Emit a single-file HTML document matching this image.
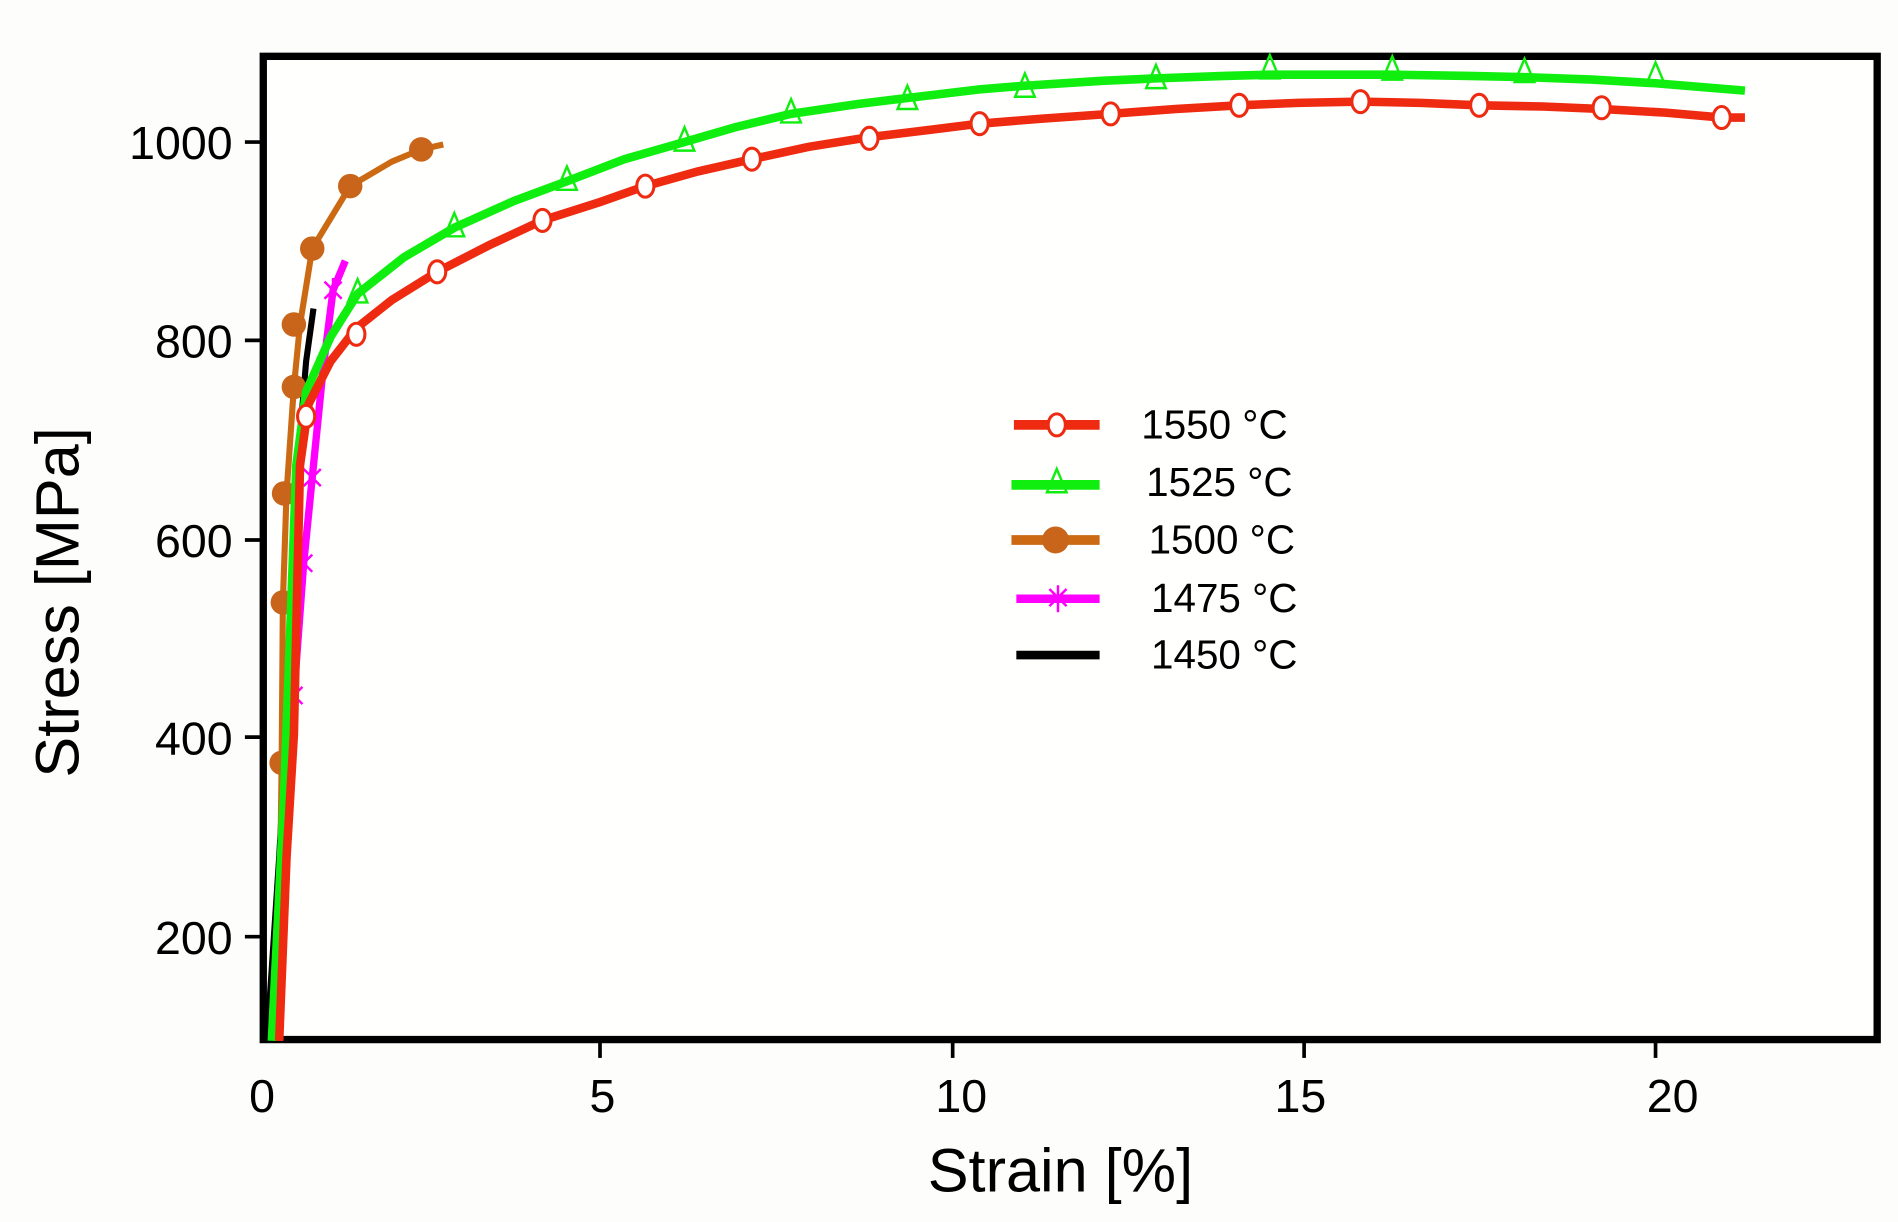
<!DOCTYPE html>
<html><head><meta charset="utf-8"><style>
html,body{margin:0;padding:0;background:#fdfdfb;}
svg{display:block;}
text{font-family:"Liberation Sans",sans-serif;fill:#000;}
</style></head><body>
<svg width="1898" height="1222" viewBox="0 0 1550 998" preserveAspectRatio="none">
<rect x="0" y="0" width="1550" height="998" fill="#fdfdfb"/>
<rect x="215" y="46" width="1318" height="803" fill="#fffffd" stroke="#000" stroke-width="6"/>
<g stroke="#000" stroke-width="3">
<line x1="200" y1="116" x2="213" y2="116"/><line x1="200" y1="278" x2="213" y2="278"/>
<line x1="200" y1="441" x2="213" y2="441"/><line x1="200" y1="602" x2="213" y2="602"/>
<line x1="200" y1="765" x2="213" y2="765"/>
<line x1="490" y1="851" x2="490" y2="864"/><line x1="778" y1="851" x2="778" y2="864"/>
<line x1="1065" y1="851" x2="1065" y2="864"/><line x1="1352" y1="851" x2="1352" y2="864"/>
</g>
<g font-size="38" text-anchor="end">
<text x="190" y="130">1000</text><text x="190" y="292">800</text><text x="190" y="455">600</text>
<text x="190" y="616">400</text><text x="190" y="779">200</text>
</g>
<g font-size="38" text-anchor="middle">
<text x="214" y="908">0</text><text x="492" y="908">5</text><text x="785" y="908">10</text>
<text x="1062" y="908">15</text><text x="1366" y="908">20</text>
</g>
<text x="866" y="973" font-size="50" text-anchor="middle">Strain [%]</text>
<text transform="translate(64,492) rotate(-90)" font-size="50" text-anchor="middle">Stress [MPa]</text>

<polyline fill="none" stroke="#000" stroke-width="5" points="218,850 228,700 238,520 243,380 250,295 256,252"/>
<polyline fill="none" stroke="#ff00ff" stroke-width="6" points="228,850 236,650 240,568 248,460 255,390 264,300 272,237 282,213"/>
<g stroke="#ff00ff" stroke-width="2">
<path d="M233,561 l14,14 M247,561 l-14,14 M240,558 v20"/>
<path d="M241,453 l14,14 M255,453 l-14,14 M248,450 v20"/>
<path d="M248,383 l14,14 M262,383 l-14,14 M255,380 v20"/>
<path d="M265,230 l14,14 M279,230 l-14,14 M272,227 v20"/>
</g>
<polyline fill="none" stroke="#cc6a14" stroke-width="5" points="227,850 229,700 230,623 231,492 234,403 240,316 245,265 255,203 286,152 320,132 344,122 362,118"/>
<g fill="#c8651a">
<circle cx="230" cy="623" r="10"/><circle cx="231" cy="492" r="10"/><circle cx="232" cy="403" r="10"/>
<circle cx="240" cy="316" r="10"/><circle cx="240" cy="265" r="10"/><circle cx="255" cy="203" r="10"/>
<circle cx="286" cy="152" r="10"/><circle cx="344" cy="122" r="10"/>
</g>
<polyline fill="none" stroke="#10ee10" stroke-width="7" points="222,850 232,650 242,380 250,320 270,275 292,240 330,210 371,186 420,164 463,148 510,130 559,116 600,104 646,93 700,85 741,80 800,73 837,70 900,66 944,64 1000,62 1037,61 1100,61 1137,61 1200,62 1245,63 1300,65 1352,68 1425,74"/>
<g fill="none" stroke="#10ee10" stroke-width="2">
<polygon points="292,228 284,247 300,247"/><polygon points="371,174 363,193 379,193"/>
<polygon points="463,136 455,155 471,155"/><polygon points="559,104 551,123 567,123"/>
<polygon points="646,81 638,100 654,100"/><polygon points="741,70 733,89 749,89"/>
<polygon points="837,60 829,79 845,79"/><polygon points="944,53 936,72 952,72"/>
<polygon points="1037,45 1029,64 1045,64"/><polygon points="1137,46 1129,65 1145,65"/>
<polygon points="1245,48 1237,67 1253,67"/><polygon points="1352,51 1344,70 1360,70"/>
</g>
<polyline fill="none" stroke="#ee2a10" stroke-width="7" points="228,850 234,700 240,600 245,380 252,330 270,295 291,268 320,245 357,222 400,200 443,180 490,165 527,152 570,140 614,130 660,120 710,112 760,106 800,101 850,97 907,93 960,89 1012,86 1060,84 1111,83 1160,84 1208,86 1260,87 1308,89 1360,92 1406,96 1425,96"/>
<g fill="#fff" stroke="#ee2a10" stroke-width="2.5">
<ellipse cx="250" cy="340" rx="7" ry="9"/><ellipse cx="291" cy="273" rx="7" ry="9"/>
<ellipse cx="357" cy="222" rx="7" ry="9"/><ellipse cx="443" cy="180" rx="7" ry="9"/>
<ellipse cx="527" cy="152" rx="7" ry="9"/><ellipse cx="614" cy="130" rx="7" ry="9"/>
<ellipse cx="710" cy="113" rx="7" ry="9"/><ellipse cx="800" cy="101" rx="7" ry="9"/>
<ellipse cx="907" cy="93" rx="7" ry="9"/><ellipse cx="1012" cy="86" rx="7" ry="9"/>
<ellipse cx="1111" cy="83" rx="7" ry="9"/><ellipse cx="1208" cy="86" rx="7" ry="9"/>
<ellipse cx="1308" cy="88" rx="7" ry="9"/><ellipse cx="1406" cy="96" rx="7" ry="9"/>
</g>

<line x1="828" y1="347" x2="898" y2="347" stroke="#ee2a10" stroke-width="8"/>
<ellipse cx="863" cy="347" rx="7" ry="9" fill="#fff" stroke="#ee2a10" stroke-width="2.5"/>
<line x1="826" y1="396" x2="898" y2="396" stroke="#10ee10" stroke-width="8"/>
<polygon points="863,383 855,402 871,402" fill="none" stroke="#10ee10" stroke-width="2"/>
<line x1="826" y1="441" x2="898" y2="441" stroke="#cc6a14" stroke-width="8"/>
<circle cx="862" cy="441" r="11" fill="#c8651a"/>
<line x1="830" y1="489" x2="898" y2="489" stroke="#ff00ff" stroke-width="7"/>
<path d="M857,481 l14,14 M871,481 l-14,14 M864,478 v22" stroke="#ff00ff" stroke-width="2"/>
<line x1="830" y1="535" x2="898" y2="535" stroke="#000" stroke-width="7"/>
<g font-size="33">
<text x="932" y="358">1550 °C</text><text x="936" y="405">1525 °C</text>
<text x="938" y="452">1500 °C</text><text x="940" y="500">1475 °C</text>
<text x="940" y="546">1450 °C</text>
</g>
</svg>
</body></html>
